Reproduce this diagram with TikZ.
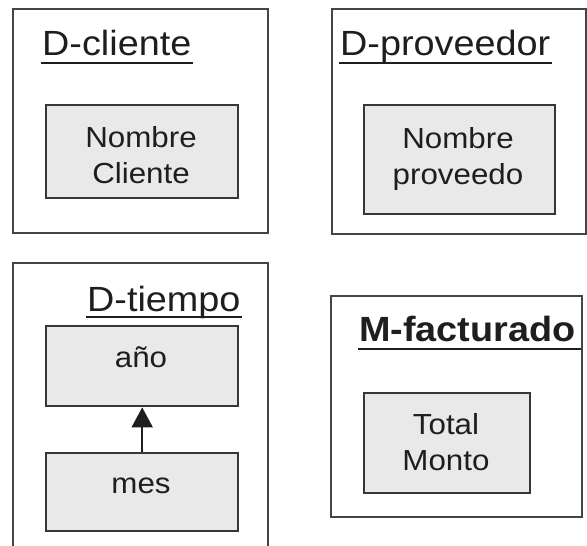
\documentclass[tikz,border=0pt]{standalone}
\usepackage{fontspec}
\setmainfont{Liberation Sans}[FakeStretch=1.08]
\usetikzlibrary{arrows.meta}
\definecolor{edge}{HTML}{454545}
\definecolor{ink}{HTML}{1E1E1E}
\definecolor{attrfill}{HTML}{E9E9E9}
\tikzset{
  outerbox/.style={draw=edge, line width=2pt, fill=white},
  attrbox/.style={draw=edge!80!black, line width=2.4pt, fill=attrfill, inner sep=0pt, anchor=north west},
  title/.style={inner sep=0pt, anchor=base west, text=ink, font=\fontsize{35}{40}\selectfont},
  boldtitle/.style={title, font=\fontsize{35}{40}\selectfont\bfseries},
  uline/.style={draw=ink, line width=2.6pt},
  attrtext/.style={inner sep=0pt, anchor=base, text=ink, align=center, font=\fontsize{29}{36}\selectfont},
  hierarrow/.style={draw=ink, line width=2pt, -{Triangle[length=20pt,width=21pt]}}
}
\begin{document}
\begin{tikzpicture}[x=1pt,y=-1pt]
\fill[white] (0,0) rectangle (587,546);
\useasboundingbox (0,0) rectangle (587,546);

% D-cliente
\draw[outerbox] (13,9) rectangle (268,233);
\node[title] (t1) at (42,56) {D-cliente};
\draw[uline] ([xshift=-1pt,yshift=-7pt]t1.base west) -- ([xshift=1pt,yshift=-7pt]t1.base east);
\node[attrbox, minimum width=192pt, minimum height=93pt] (b1) at (45,104) {};
\node[attrtext] (x1) at (141,183) {Nombre\\Cliente};

% D-proveedor
\draw[outerbox] (332,9) rectangle (586,234);
\node[title] (t2) at (340,56) {D-proveedor};
\draw[uline] ([xshift=-1pt,yshift=-7pt]t2.base west) -- ([xshift=1pt,yshift=-7pt]t2.base east);
\node[attrbox, minimum width=191pt, minimum height=109pt] (b2) at (363,104) {};
\node[attrtext] (x2) at (458,184) {Nombre\\proveedo};

% D-tiempo
\draw[outerbox] (13,547) -- (13,263) -- (268,263) -- (268,547);
\node[title] (t3) at (87,311) {D-tiempo};
\draw[uline] ([xshift=-1pt,yshift=-6pt]t3.base west) -- ([xshift=1pt,yshift=-6pt]t3.base east);
\node[attrbox, minimum width=192pt, minimum height=80pt] (b3) at (45,325) {};
\node[attrtext] (x3) at (141,367) {año};
\node[attrbox, minimum width=192pt, minimum height=78pt] (b4) at (45,452) {};
\node[attrtext] (x4) at (141,493) {mes};
\draw[hierarrow] (b4.north) -- (b3.south);

% M-facturado
\draw[outerbox] (331,296) rectangle (582,517);
\node[boldtitle] (t4) at (359,341) {M-facturado};
\draw[uline] ([xshift=-1pt,yshift=-8pt]t4.base west) -- (581,349);
\node[attrbox, minimum width=166pt, minimum height=100pt] (b5) at (363,392) {};
\node[attrtext] (x5) at (446,470) {Total\\Monto};
\end{tikzpicture}
\end{document}
